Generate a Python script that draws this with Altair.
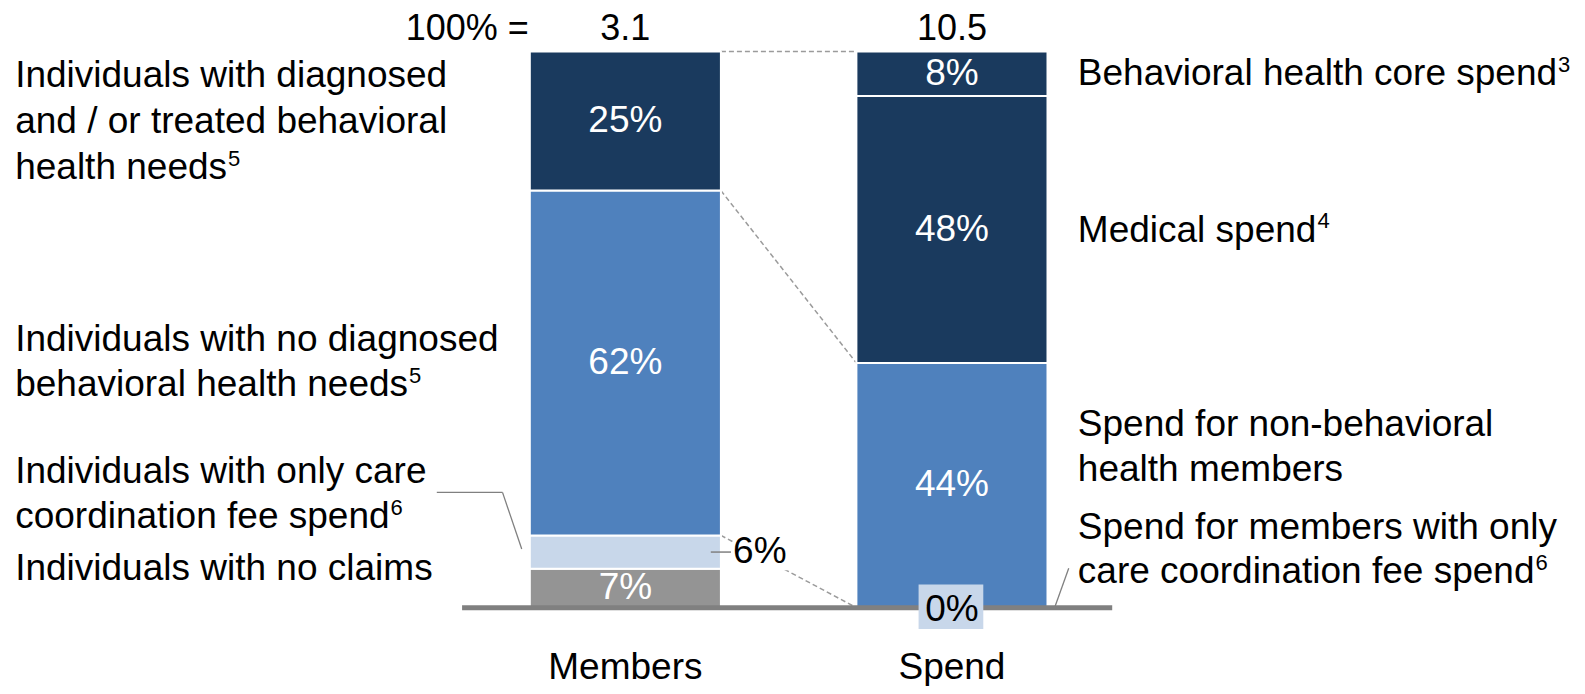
import altair as alt
import pandas as pd
import numpy as np

# ---------------- data ----------------
CATEGORIES = ["Members", "Spend"]
TOTALS = ["3.1", "10.5"]

MEMBER_SEGMENTS = ["No claims", "Only care coordination fee spend",
                   "No diagnosed behavioral health needs",
                   "Diagnosed and / or treated behavioral health needs"]
MEMBER_VALUES = [7, 6, 62, 25]
MEMBER_GROUPS = ["gray", "light", "mid", "dark"]

SPEND_SEGMENTS = ["Members with only care coordination fee spend",
                  "Non-behavioral health members", "Medical spend",
                  "Behavioral health core spend"]
SPEND_VALUES = [0, 44, 48, 8]
SPEND_GROUPS = ["light", "mid", "dark", "dark"]

# connectors: (member segment index, spend segment index) joined at their tops
CONNECT = [(1, 0), (2, 1), (3, 3)]

# (line text, footnote superscript)
LEFT_LABELS = [
    [("Individuals with diagnosed", ""), ("and / or treated behavioral", ""), ("health needs", "5")],
    [("Individuals with no diagnosed", ""), ("behavioral health needs", "5")],
    [("Individuals with only care", ""), ("coordination fee spend", "6")],
    [("Individuals with no claims", "")],
]
RIGHT_LABELS = [
    [("Behavioral health core spend", "3")],
    [("Medical spend", "4")],
    [("Spend for non-behavioral", ""), ("health members", "")],
    [("Spend for members with only", ""), ("care coordination fee spend", "6")],
]

# ---------------- layout / style ----------------
W, H = 1569, 678
K = 1.0111             # layout units -> screen pixels
FONT = "Liberation Sans"
FS = 37
SUP_FS = 22
PX_PER_PCT = 5.5
BASE_Y = 601           # layout y of baseline
CAT_X = {"Members": 618.5, "Spend": 941.5}
BAR_W = 189
COLORS = {"gray": "#949494", "light": "#c8d7ea", "mid": "#4f81bd", "dark": "#1a3a5e"}

# Arial / Liberation Sans advance widths (1/1000 em) used to place footnote marks
ADV = dict(a=556, b=556, c=500, d=556, e=556, f=278, g=556, h=556, i=222, j=222, k=500,
           l=222, m=833, n=556, o=556, p=556, q=556, r=333, s=500, t=278, u=556, v=500,
           w=722, x=500, y=500, z=500)
ADV.update({" ": 278, "B": 667, "M": 833, "I": 278, "S": 667, "-": 333, "/": 278})


def text_w(s, fs):
    return sum(ADV.get(ch, 556) for ch in s) * fs / 1000.0 / K


def py(y_layout):
    return (BASE_Y - y_layout) / PX_PER_PCT


xs = alt.Scale(domain=[8 / K, (8 + W) / K], nice=False, zero=False)
ys = alt.Scale(domain=[py((8 + H) / K), py(8 / K)], nice=False, zero=False)

# ---------------- tables ----------------
rows = []
for cat, segs, vals, grps in [("Members", MEMBER_SEGMENTS, MEMBER_VALUES, MEMBER_GROUPS),
                              ("Spend", SPEND_SEGMENTS, SPEND_VALUES, SPEND_GROUPS)]:
    tops = np.cumsum(vals)
    for i, (s, v, g) in enumerate(zip(segs, vals, grps)):
        rows.append(dict(cat=cat, seg=s, value=v, group=g,
                         y0=float(tops[i] - v), y1=float(tops[i]),
                         ymid=float(tops[i] - v / 2),
                         x0=CAT_X[cat] - BAR_W / 2, x1=CAT_X[cat] + BAR_W / 2,
                         xc=CAT_X[cat], label=f"{v}%"))
bars = pd.DataFrame(rows)
mem = bars[bars.cat == "Members"].reset_index(drop=True)
spd = bars[bars.cat == "Spend"].reset_index(drop=True)

conn = pd.DataFrame([dict(x=mem.x1[a], x2=spd.x0[b], y=mem.y1[a], y2=spd.y1[b]) for a, b in CONNECT])

X = alt.X("x:Q", scale=xs, axis=None)
Y = alt.Y("y:Q", scale=ys, axis=None)

connectors = alt.Chart(conn).mark_rule(color="#9b9b9b", strokeWidth=1.5, strokeDash=[5, 3]).encode(
    x=X, x2="x2:Q", y=Y, y2="y2:Q")

bar_layer = alt.Chart(bars).mark_rect(stroke="white", strokeWidth=2).encode(
    x=alt.X("x0:Q", scale=xs, axis=None), x2="x1:Q",
    y=alt.Y("y0:Q", scale=ys, axis=None), y2="y1:Q",
    color=alt.Color("group:N", scale=alt.Scale(domain=list(COLORS), range=list(COLORS.values())), legend=None))

baseline = alt.Chart(pd.DataFrame([dict(x=457, x2=1100, y=0)])).mark_rule(
    color="#808080", strokeWidth=5).encode(x=X, x2="x2:Q", y=Y)

inside = bars[bars.value >= 7]
inside_labels = alt.Chart(inside).mark_text(font=FONT, fontSize=FS, color="white", baseline="middle").encode(
    x=alt.X("xc:Q", scale=xs, axis=None), y=alt.Y("ymid:Q", scale=ys, axis=None), text="label:N")

# small member segment label (6%) outside the bar
small = mem[mem.value < 7].copy()
small["tx"] = small.x1 + 12
small_bg = alt.Chart(small).mark_rect(color="white").encode(
    x=alt.X("tx:Q", scale=xs, axis=None), x2=alt.X2("tx2:Q"),
    y=alt.Y("ya:Q", scale=ys, axis=None), y2=alt.Y2("yb:Q")).transform_calculate(
    tx2="datum.tx + 60", ya=f"datum.ymid - {18 / PX_PER_PCT}", yb=f"datum.ymid + {16 / PX_PER_PCT}")
small_tick = alt.Chart(small).mark_rule(color="#808080", strokeWidth=1.5).encode(
    x=alt.X("ta:Q", scale=xs, axis=None), x2=alt.X2("tb:Q"),
    y=alt.Y("ymid:Q", scale=ys, axis=None)).transform_calculate(ta="datum.x1 - 10", tb="datum.tx - 2")
small_text = alt.Chart(small).mark_text(font=FONT, fontSize=FS, color="black", align="left", baseline="middle").encode(
    x=alt.X("tx:Q", scale=xs, axis=None), y=alt.Y("ymid:Q", scale=ys, axis=None), text="label:N")

# zero spend segment label (0%) in a box under the baseline
zero = spd[spd.value == 0].copy()
zero_box = alt.Chart(zero).mark_rect(color=COLORS["light"]).encode(
    x=alt.X("bx0:Q", scale=xs, axis=None), x2=alt.X2("bx1:Q"),
    y=alt.Y("by0:Q", scale=ys, axis=None), y2=alt.Y2("by1:Q")).transform_calculate(
    bx0="datum.xc - 33", bx1="datum.xc + 31", by0=str(py(622)), by1=str(py(578)))
zero_text = alt.Chart(zero.assign(yl=py(603))).mark_text(font=FONT, fontSize=FS, color="black", baseline="middle").encode(
    x=alt.X("xc:Q", scale=xs, axis=None), y=alt.Y("yl:Q", scale=ys, axis=None), text="label:N")

# leader lines (layout coords)
lead = pd.DataFrame([
    dict(x=432, x2=497, y=py(487), y2=py(487)),
    dict(x=497, x2=516, y=py(487), y2=py(543)),
    dict(x=1043, x2=1057, y=py(601), y2=py(562)),
])
leaders = alt.Chart(lead).mark_rule(color="#808080", strokeWidth=1.3).encode(x=X, x2="x2:Q", y=Y, y2="y2:Q")

# side labels
LEFT_X, RIGHT_X = 15, 1066
LEFT_Y = [[75, 121, 166], [336, 381], [467, 511], [563]]
RIGHT_Y = [[73], [228], [420, 465], [522, 566]]
txt_rows, sup_rows = [], []
for labels, ypos, x0 in [(LEFT_LABELS, LEFT_Y, LEFT_X), (RIGHT_LABELS, RIGHT_Y, RIGHT_X)]:
    for lines, ys_ in zip(labels, ypos):
        for (t, sup), yy in zip(lines, ys_):
            txt_rows.append(dict(text=t, x=x0, y=py(yy)))
            if sup:
                sup_rows.append(dict(text=sup, x=x0 + text_w(t, FS) + 1, y=py(yy - 9)))
side = alt.Chart(pd.DataFrame(txt_rows)).mark_text(
    font=FONT, fontSize=FS, color="black", align="left", baseline="middle").encode(x=X, y=Y, text="text:N")
sups = alt.Chart(pd.DataFrame(sup_rows)).mark_text(
    font=FONT, fontSize=SUP_FS, color="black", align="left", baseline="middle").encode(x=X, y=Y, text="text:N")

HEAD_BASE = 40
head = pd.DataFrame([dict(text=t, x=CAT_X[c], y=py(HEAD_BASE)) for c, t in zip(CATEGORIES, TOTALS)])
head_layer = alt.Chart(head).mark_text(font=FONT, fontSize=36, color="black", baseline="alphabetic").encode(
    x=X, y=Y, text="text:N")
head_eq = alt.Chart(pd.DataFrame([dict(text="100% =", x=523, y=py(HEAD_BASE))])).mark_text(
    font=FONT, fontSize=36, color="black", align="right", baseline="alphabetic").encode(x=X, y=Y, text="text:N")
cats = pd.DataFrame([dict(text=c, x=CAT_X[c], y=py(661)) for c in CATEGORIES])
cat_layer = alt.Chart(cats).mark_text(font=FONT, fontSize=FS, color="black", baseline="middle").encode(
    x=X, y=Y, text="text:N")

chart = alt.layer(
    connectors, bar_layer, baseline, leaders,
    small_bg, small_tick, small_text, zero_box, zero_text,
    inside_labels, side, sups, head_layer, head_eq, cat_layer,
).properties(width=W, height=H, padding=0, autosize=alt.AutoSizeParams(type="none")).configure_view(stroke=None)

chart.save("out.html", embed_options={"renderer": "svg", "actions": False})
